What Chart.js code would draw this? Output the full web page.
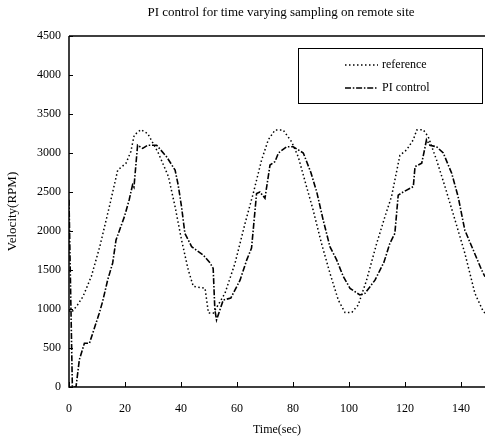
<!DOCTYPE html>
<html lang="en">
<head>
  <meta charset="UTF-8">
  <title>PI control for time varying sampling on remote site</title>
  <style>
    body { margin: 0; padding: 0; background: #fff; overflow: hidden; }
    #wrap { width: 485px; height: 440px; }
  </style>
  <script src="https://cdn.jsdelivr.net/npm/chart.js"></script>
</head>
<body>
  <div id="wrap"><canvas id="chartCanvas" width="485" height="440"></canvas></div>

  <script>
    const chartTitle = 'PI control for time varying sampling on remote site';

    // reference speed (dotted)
    const refTime = [0, 1, 3, 5, 8, 11, 14.4, 17.4, 20.4, 22.1, 23.3, 25.7, 28.1, 31.9, 35.5, 37.9,
      40.2, 42.6, 44.4, 48.6, 49.8, 51.5, 55.7, 59.3, 62.9, 65.8, 68.8, 71.2, 73.6, 76.5, 79.5,
      81.9, 84.6, 87.2, 90.2, 93.2, 96.2, 98.6, 101, 103.3, 106.3, 109.9, 113, 115.2, 118.2,
      120.6, 123, 124.2, 126.5, 128.3, 131.3, 134.3, 137.9, 141.4, 145, 148, 148.6];
    const refValues = [980, 960, 1050, 1160, 1420, 1800, 2310, 2780, 2870, 3020, 3230, 3300, 3250, 3000, 2700, 2310,
      1885, 1500, 1290, 1265, 950, 945, 1200, 1586, 2100, 2480, 2910, 3170, 3295, 3295, 3145,
      2950, 2600, 2270, 1840, 1460, 1115, 955, 955, 1050, 1370, 1840, 2200, 2440, 2970,
      3040, 3170, 3295, 3300, 3210, 2910, 2570, 2140, 1715, 1200, 965, 950];

    // PI control response (dash-dot)
    const piTime = [0, 0.6, 1.2, 2.5, 3.7, 5.5, 7.3, 10.8, 12, 13.8, 15.6, 16.8, 19.8, 21.5, 22.7, 23.2, 24.5,
      26.3, 28.1, 31.3, 34.9, 37.9, 39, 40.2, 41.4, 43.8, 48, 50.4, 51.5, 52.1, 52.7, 55.1, 57.8,
      61.1, 63.5, 65.2, 65.8, 67, 68.2, 70, 71.8, 73.6, 74.8, 77.7, 80.1, 83.7, 86.4, 88.5, 90.8,
      93.2, 95.6, 98, 100.4, 103.9, 105.7, 109.3, 112.5, 114.6, 116.4, 117.6, 119.4, 123, 123.6,
      126, 127.1, 127.7, 128.9, 131.3, 133.7, 136.7, 139, 141.4, 144.4, 147.4, 148.6];
    const piValues = [2400, 1200, 0, 0, 350, 560, 560, 945, 1095, 1370, 1590, 1885, 2185, 2400, 2590, 2560, 3100,
      3060, 3100, 3100, 2950, 2780, 2590, 2310, 1970, 1800, 1690, 1590, 1520, 990, 860, 1115, 1140,
      1370, 1630, 1780, 2010, 2480, 2500, 2420, 2846, 2890, 3000, 3080, 3080, 3000, 2750, 2500, 2140,
      1800, 1630, 1415, 1265, 1180, 1200, 1370, 1600, 1840, 1970, 2460, 2500, 2570, 2825,
      2870, 3060, 3170, 3100, 3080, 3000, 2740, 2440, 2010, 1756, 1500, 1414];

    const xTicks = [0, 20, 40, 60, 80, 100, 120, 140];
    const yTickStep = 500;
    const SERIF = "'Liberation Serif', 'Times New Roman', serif";

    const toPoints = (xs, ys) => xs.map((x, i) => ({ x, y: ys[i] }));

    // title over the plot, frame, inward tick marks and the boxed legend
    const framePlugin = {
      id: 'frame',
      afterDatasetsDraw(chart) {
        const { ctx, chartArea: a, scales } = chart;
        ctx.save();
        ctx.fillStyle = '#000';
        ctx.font = '13px ' + SERIF;
        ctx.textAlign = 'center';
        ctx.textBaseline = 'middle';
        ctx.fillText(chartTitle, (a.left + a.right) / 2 + 4, 13);
        ctx.textAlign = 'left';

        ctx.strokeStyle = '#000';
        ctx.lineWidth = 1.5;
        ctx.beginPath();
        ctx.moveTo(a.left, a.top); ctx.lineTo(a.right, a.top);
        ctx.moveTo(a.left, a.top); ctx.lineTo(a.left, a.bottom); ctx.lineTo(a.right, a.bottom);
        ctx.stroke();
        ctx.lineWidth = 1;
        ctx.beginPath();
        scales.x.ticks.forEach(t => {
          const px = Math.round(scales.x.getPixelForValue(t.value)) + 0.5;
          ctx.moveTo(px, a.bottom); ctx.lineTo(px, a.bottom - 5);
        });
        scales.y.ticks.forEach(t => {
          const py = Math.round(scales.y.getPixelForValue(t.value)) + 0.5;
          ctx.moveTo(a.left, py); ctx.lineTo(a.left + 4, py);
        });
        ctx.stroke();

        // legend box
        const bx = a.left + 229, by = a.top + 12, bw = a.right - 3 - bx, bh = 55;
        ctx.fillStyle = '#fff';
        ctx.fillRect(bx, by, bw, bh);
        ctx.strokeRect(bx + 0.5, by + 0.5, bw, bh);
        ctx.font = '12px ' + SERIF;
        chart.data.datasets.forEach((ds, i) => {
          const ly = by + 17 + i * 23;
          ctx.save();
          ctx.setLineDash(ds.borderDash);
          ctx.lineWidth = ds.borderWidth;
          ctx.strokeStyle = '#000';
          ctx.beginPath();
          ctx.moveTo(bx + 47, ly); ctx.lineTo(bx + 80, ly);
          ctx.stroke();
          ctx.restore();
          ctx.fillStyle = '#000';
          ctx.fillText(ds.label, bx + 84, ly);
        });
        ctx.restore();
      }
    };

    new Chart(document.getElementById('chartCanvas'), {
      type: 'line',
      data: {
        datasets: [
          { label: 'reference', data: toPoints(refTime, refValues), borderColor: '#000',
            borderWidth: 1.5, borderDash: [1.5, 2.5], pointRadius: 0, tension: 0, fill: false },
          { label: 'PI control', data: toPoints(piTime, piValues), borderColor: '#000',
            borderWidth: 1.6, borderDash: [6, 1.8, 1.5, 1.8], pointRadius: 0, tension: 0, fill: false }
        ]
      },
      options: {
        responsive: false,
        animation: false,
        layout: { padding: { left: 0, right: 0, top: 36, bottom: 0 } },
        plugins: {
          legend: { display: false },
          tooltip: { enabled: false },
          title: { display: false }
        },
        scales: {
          x: {
            type: 'linear',
            min: 0,
            max: 148.6,
            grid: { display: false, drawTicks: false },
            border: { display: false },
            afterBuildTicks: s => { s.ticks = xTicks.map(v => ({ value: v })); },
            afterFit: s => { s.height = 53; },
            ticks: { color: '#000', padding: 15, maxRotation: 0, autoSkip: false,
              callback: v => String(v),
              font: { family: SERIF, size: 12 } },
            title: { display: true, text: 'Time(sec)', color: '#000',
              font: { family: SERIF, size: 12 }, padding: { top: 0, bottom: 3 } }
          },
          y: {
            min: 0,
            max: 4500,
            grid: { display: false, drawTicks: false },
            border: { display: false },
            afterFit: s => { s.width = 69; },
            ticks: { stepSize: yTickStep, color: '#000', padding: 8,
              callback: v => String(v),
              font: { family: SERIF, size: 12 } },
            title: { display: true, text: 'Velocity(RPM)', color: '#000',
              font: { family: SERIF, size: 13 }, padding: { top: 5, bottom: 0 } }
          }
        }
      },
      plugins: [framePlugin]
    });
  </script>
</body>
</html>
